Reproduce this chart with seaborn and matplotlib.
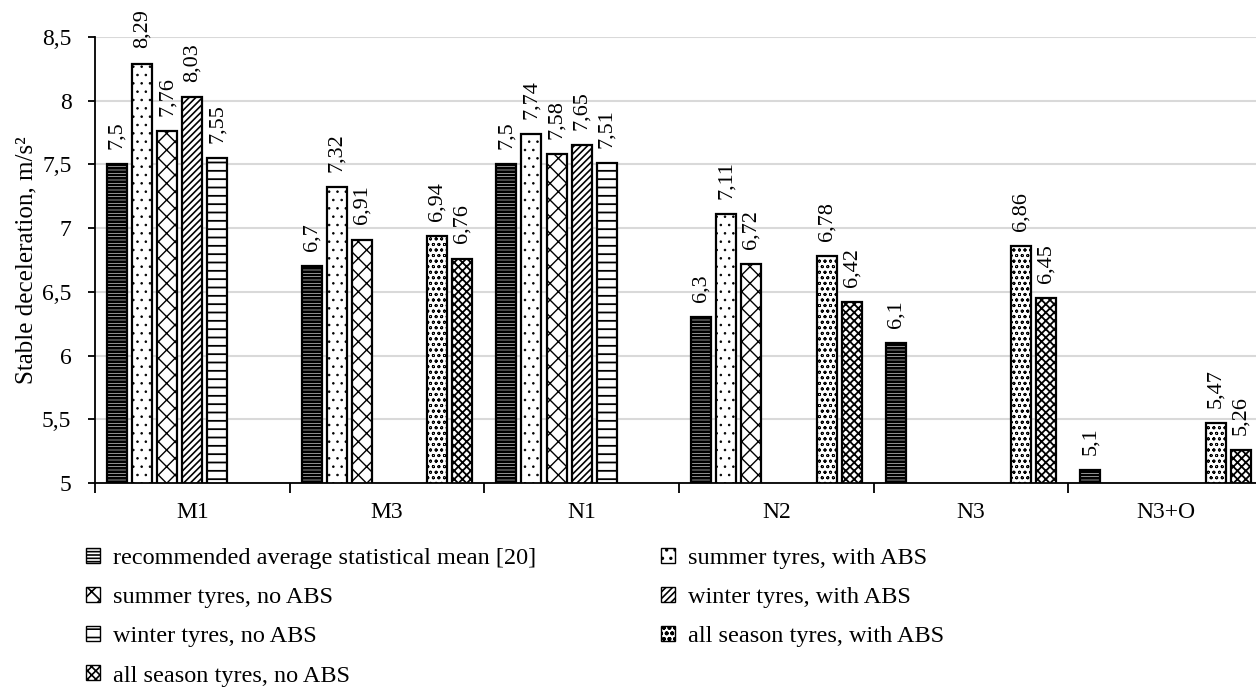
import numpy as np
import pandas as pd
import seaborn as sns
import matplotlib.pyplot as plt
from matplotlib.patches import Patch
from matplotlib.ticker import FuncFormatter, FixedLocator

nan = np.nan
categories = ["M1", "M3", "N1", "N2", "N3", "N3+O"]
series = ["recommended average statistical mean [20]",
          "summer tyres, with ABS",
          "summer tyres, no ABS",
          "winter tyres, with ABS",
          "winter tyres, no ABS",
          "all season tyres, with ABS",
          "all season tyres, no ABS"]
recommended = [7.5, 6.7, 7.5, 6.3, 6.1, 5.1]
summer_abs = [8.29, 7.32, 7.74, 7.11, nan, nan]
summer_no_abs = [7.76, 6.91, 7.58, 6.72, nan, nan]
winter_abs = [8.03, nan, 7.65, nan, nan, nan]
winter_no_abs = [7.55, nan, 7.51, nan, nan, nan]
allseason_abs = [nan, 6.94, nan, 6.78, 6.86, 5.47]
allseason_no_abs = [nan, 6.76, nan, 6.42, 6.45, 5.26]
hatches = ["-----", "..", "xx", "/////", "--", "ooo", "xxxx"]
hatch_lw = [2.0, 0.6, 1.0, 1.2, 1.3, 0.6, 1.3]

values = [recommended, summer_abs, summer_no_abs, winter_abs,
          winter_no_abs, allseason_abs, allseason_no_abs]
rows = []
for s, vals in zip(series, values):
    for c, v in zip(categories, vals):
        rows.append({"category": c, "series": s, "value": v})
df = pd.DataFrame(rows)

sns.set_style("white")
plt.rcParams["font.family"] = ["Liberation Serif", "DejaVu Serif"]
plt.rcParams["hatch.linewidth"] = 1.2
for key in ["text.color", "axes.labelcolor", "xtick.color", "ytick.color"]:
    plt.rcParams[key] = "black"

fig = plt.figure(figsize=(12.56, 6.88), dpi=100)
ax = fig.add_axes([95/1256, 1-483/688, 1168/1256, 446/688])

sns.barplot(data=df, x="category", y="value", hue="series",
            order=categories, hue_order=series, width=0.903, gap=0.2,
            palette=["white"]*7, edgecolor="black", linewidth=1.6,
            errorbar=None, legend=False, ax=ax)

def style_patch(p, h, lw):
    p.set_hatch(h)
    p.set_edgecolor("black")
    p.set_facecolor("white")
    if hasattr(p, "set_hatch_linewidth"):
        p.set_hatch_linewidth(lw)

for cont, h, lw in zip(ax.containers, hatches, hatch_lw):
    for bar in cont:
        style_patch(bar, h, lw)
    labels = [f"{b.get_height():g}".replace(".", ",") if not np.isnan(b.get_height()) else ""
              for b in cont]
    ax.bar_label(cont, labels=labels, rotation=90, padding=11, fontsize=16, color="black")

ax.set_ylim(5, 8.5)
ax.set_xlim(-0.5, 5.5)
ax.set_yticks(np.arange(5, 8.51, 0.5))
ax.yaxis.set_major_formatter(FuncFormatter(lambda v, p: f"{v:g}".replace(".", ",")))
ax.yaxis.grid(True, color="#d9d9d9", linewidth=1.5)
ax.set_axisbelow(True)
for side in ["top", "right"]:
    ax.spines[side].set_visible(False)
ax.spines["left"].set_color("black")
ax.spines["bottom"].set_color("black")
ax.spines["left"].set_linewidth(1.3)
ax.spines["bottom"].set_linewidth(1.3)
ax.tick_params(axis="y", left=True, length=5, width=1.3, labelsize=17, color="black",
               labelcolor="black", pad=12)
ax.tick_params(axis="x", which="major", length=0, labelsize=17, labelcolor="black", pad=14)
ax.xaxis.set_minor_locator(FixedLocator(np.arange(-0.5, 5.6, 1)))
ax.tick_params(axis="x", which="minor", bottom=True, length=7, width=1.3, color="black")
ax.set_xlabel("")
ax.set_ylabel("Stable deceleration, m/s²", fontsize=18, labelpad=3, color="black")

handles = []
for s, h, lw in zip(series, hatches, hatch_lw):
    p = Patch(label=s)
    style_patch(p, h, lw)
    handles.append(p)
order = [0, 2, 4, 6, 1, 3, 5]
fig.legend([handles[i] for i in order], [series[i] for i in order],
           loc="upper left", bbox_to_anchor=(86/1256, 1-548/688), ncol=2,
           frameon=False, fontsize=17.5, handlelength=0.58, handleheight=0.58,
           handletextpad=0.55, columnspacing=5.1, labelspacing=0.74,
           borderpad=0, borderaxespad=0, labelcolor="black")

fig.savefig("out.png", dpi=100)
